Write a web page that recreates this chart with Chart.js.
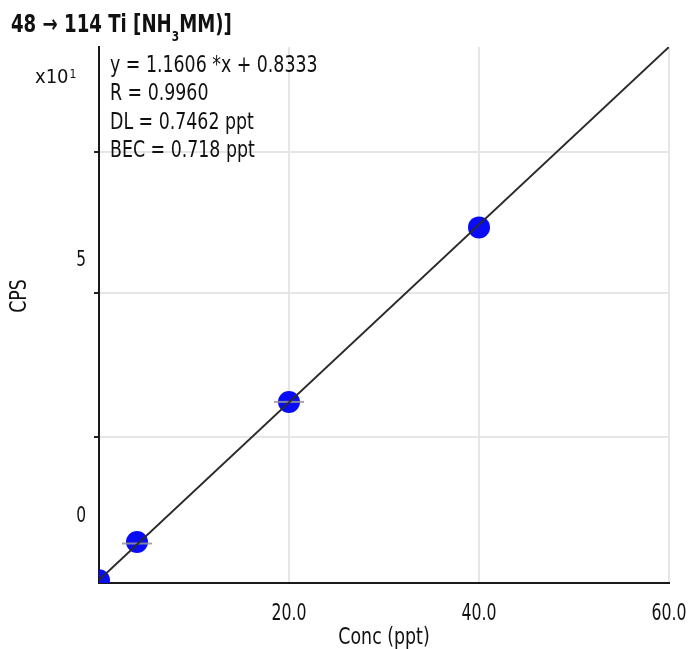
<!DOCTYPE html>
<html><head><meta charset="utf-8">
<script src="https://cdn.jsdelivr.net/npm/chart.js@4.4.0/dist/chart.umd.min.js"></script>
<style>html,body{margin:0;padding:0;background:#fff;} #wrap{width:688px;height:649px;position:relative;}</style>
</head><body><div id="wrap"><canvas id="c" width="688" height="649"></canvas></div>
<script>
const FONT = "'Liberation Sans Narrow','Arial Narrow','DejaVu Sans Condensed',sans-serif";

// ---- data ----
const concentrations = [0, 4, 20, 40];
const cpsValues = [0.8, 5.8, 24.1, 46.9];
const errorBarConc = [4, 20];
const errorBarCps = [5.6, 24.1];
const fitLineConc = [0, 60];
const fitLineCps = [0.83, 70.47];
const xTickValues = [0, 20, 40, 60];
const xTickLabels = ['', '20.0', '40.0', '60.0'];
const yGridValues = [19.5, 38.35, 56.75];
const yLabelValues = [9.2, 42.66];
const yLabelTexts = ['0', '5'];
const xRange = [0, 60];
const yRange = [0.44, 70.47];
const titleParts = ['48 \u2192 114 Ti [NH', '3', 'MM)]'];
const fitLines = ['y = 1.1606 *x + 0.8333', 'R = 0.9960', 'DL = 0.7462 ppt', 'BEC = 0.718 ppt'];
const multiplierParts = ['x10', '1'];
const xTitle = 'Conc (ppt)';
const yTitle = 'CPS';

const GRID = '#e6e6e6';
const INK = '#111';
const isGridVal = v => yGridValues.indexOf(v) >= 0;
const yTickList = yGridValues.concat(yLabelValues).sort((a, b) => a - b);

function drawText(ctx, text, x, y, size, o) {
  o = o || {};
  ctx.save();
  ctx.fillStyle = INK;
  ctx.font = (o.bold ? 'bold ' : '') + size + 'px ' + FONT;
  ctx.textAlign = o.align || 'left';
  ctx.textBaseline = o.baseline || 'alphabetic';
  ctx.translate(x, y);
  if (o.rotate) ctx.rotate(o.rotate);
  const sx = o.sx || 0.84;
  ctx.scale(sx, 1);
  ctx.fillText(text, 0, 0);
  const w = ctx.measureText(text).width * sx;
  ctx.restore();
  return w;
}

const textPlugin = {
  id: 'texts',
  afterDraw(chart) {
    const { ctx, chartArea: a, scales } = chart;
    // title with subscript
    let x = 11;
    x += drawText(ctx, titleParts[0], x, 32, 24, { bold: true });
    x += drawText(ctx, titleParts[1], x, 41, 14, { bold: true });
    drawText(ctx, titleParts[2], x, 32, 24, { bold: true });
    // fit statistics
    fitLines.forEach((t, i) => drawText(ctx, t, a.left + 11, 72 + i * 28.4, 23));
    // multiplier
    const w = drawText(ctx, multiplierParts[0], 35, 83, 20, { sx: 1 });
    drawText(ctx, multiplierParts[1], 35 + w + 1, 78, 12, { sx: 1 });
    // x tick labels from the x scale
    scales.x.ticks.forEach((t, i) => {
      const lab = xTickLabels[i];
      if (lab) drawText(ctx, lab, scales.x.getPixelForValue(t.value), 620, 23, { align: 'center', sx: 0.76 });
    });
    // y tick labels from the y scale
    yLabelValues.forEach((v, i) => {
      drawText(ctx, yLabelTexts[i], a.left - 13, scales.y.getPixelForValue(v), 22, { align: 'right', baseline: 'middle', sx: 0.78 });
    });
    // axis titles
    drawText(ctx, xTitle, (a.left + a.right) / 2, 644, 23, { align: 'center', sx: 0.84 });
    drawText(ctx, yTitle, 20, 296, 23, { align: 'center', baseline: 'middle', rotate: -Math.PI / 2, sx: 0.84 });
  }
};

new Chart(document.getElementById('c'), {
  type: 'scatter',
  data: {
    datasets: [
      {
        label: 'fit',
        data: fitLineConc.map((c, i) => ({ x: c, y: fitLineCps[i] })),
        showLine: true, borderColor: '#2a2a2a', borderWidth: 2,
        pointRadius: 0, fill: false
      },
      {
        label: 'err',
        data: errorBarConc.map((c, i) => ({ x: c, y: errorBarCps[i] })),
        pointStyle: 'line', pointRadius: 15, borderColor: 'rgba(150,150,150,0.85)', borderWidth: 2,
        showLine: false
      },
      {
        label: 'std',
        data: concentrations.map((c, i) => ({ x: c, y: cpsValues[i] })),
        pointStyle: 'circle', pointRadius: 11, backgroundColor: '#0a0cf5', borderWidth: 0,
        showLine: false
      }
    ]
  },
  options: {
    responsive: false, animation: false, devicePixelRatio: 1,
    layout: { padding: { top: 47, right: 19, left: 0, bottom: 0 } },
    plugins: { legend: { display: false }, tooltip: { enabled: false }, title: { display: false } },
    scales: {
      x: {
        type: 'linear', min: xRange[0], max: xRange[1],
        afterBuildTicks: s => { s.ticks = xTickValues.map(v => ({ value: v })); },
        afterFit: s => { s.height = 66; },
        ticks: { display: false },
        grid: {
          drawTicks: false, lineWidth: 2,
          color: c => (c.tick && c.tick.value === 0) ? 'rgba(0,0,0,0)' : GRID
        },
        border: { display: true, color: '#1a1a1a', width: 2 },
        title: { display: false }
      },
      y: {
        type: 'linear', min: yRange[0], max: yRange[1],
        afterBuildTicks: s => { s.ticks = yTickList.map(v => ({ value: v })); },
        afterFit: s => { s.width = 99; },
        ticks: { display: false },
        grid: {
          drawTicks: true, tickLength: 5, lineWidth: 2, tickWidth: 2,
          color: c => (c.tick && isGridVal(c.tick.value)) ? GRID : 'rgba(0,0,0,0)',
          tickColor: c => (c.tick && isGridVal(c.tick.value)) ? '#222' : 'rgba(0,0,0,0)'
        },
        border: { display: true, color: '#1a1a1a', width: 2 },
        title: { display: false }
      }
    }
  },
  plugins: [textPlugin]
});
</script></body></html>
